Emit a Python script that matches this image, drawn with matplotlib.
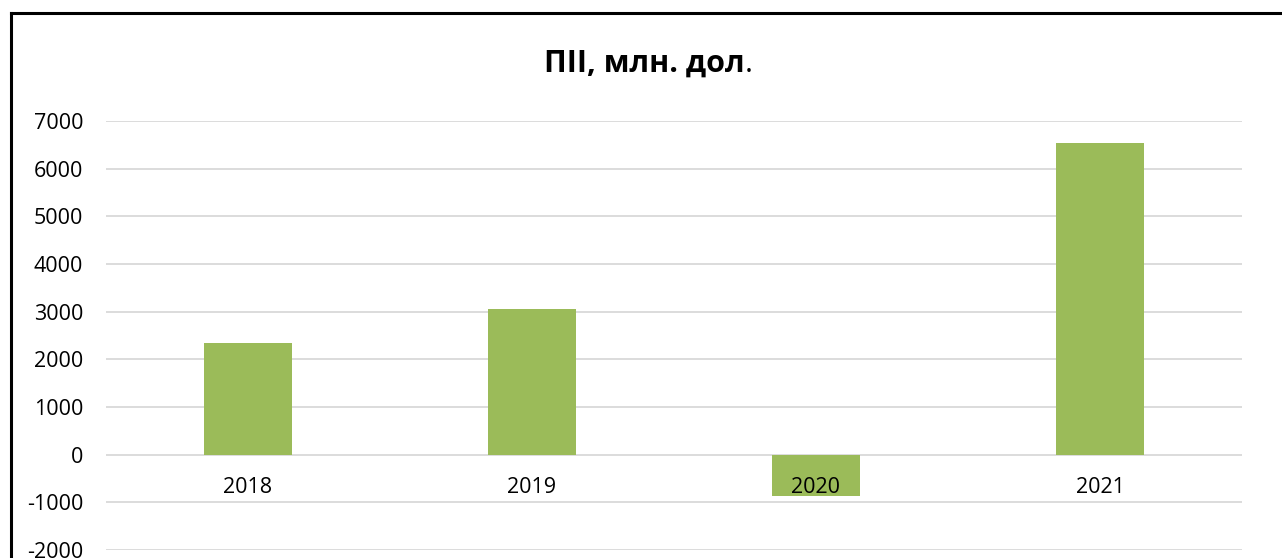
import matplotlib
matplotlib.use("Agg")
import matplotlib.pyplot as plt
from matplotlib.lines import Line2D

# ── 資料 ──────────────────────────────────────────────
years = ["2018", "2019", "2020", "2021"]
fdi = [2350, 3050, -868, 6537]
y_ticks = [-2000, -1000, 0, 1000, 2000, 3000, 4000, 5000, 6000, 7000]

W, H = 1282, 558
FONT = ["Open Sans", "DejaVu Sans"]
BAR = "#9BBB59"
GRID = "#d9d9d9"

plt.rcParams["axes.unicode_minus"] = False

fig = plt.figure(figsize=(W / 100, H / 100), dpi=100)
fig.patch.set_facecolor("white")

# 繪圖區
ax = fig.add_axes([106 / W, 1 - 550 / H, (1242 - 106) / W, (550 - 121) / H])
ax.bar(range(len(years)), fdi, width=0.31, color=BAR, zorder=1)
ax.set_xlim(-0.5, len(years) - 0.5)
ax.set_ylim(y_ticks[0], y_ticks[-1])
ax.set_yticks(y_ticks)
ax.set_xticks(range(len(years)))
ax.set_xticklabels(years)

ax.set_axisbelow(True)
ax.xaxis.set_zorder(3)  # 2020 標籤蓋在柱子上
ax.yaxis.grid(True, color=GRID, linewidth=1.3)
for s in ax.spines.values():
    s.set_visible(False)
ax.spines["bottom"].set_position(("data", 0))
ax.tick_params(axis="both", length=0, labelsize=15.5, labelcolor="black")
ax.tick_params(axis="y", pad=16.5)
ax.tick_params(axis="x", pad=16.0)
for lab in ax.get_xticklabels() + ax.get_yticklabels():
    lab.set_fontfamily(FONT)

# 標題（最後的句點不加粗）
fig.text(745 / W, 1 - 72 / H, "ПІІ, млн. дол", ha="right", va="baseline",
         fontsize=22, fontweight="bold", family=FONT)
fig.text(745 / W, 1 - 72 / H, ".", ha="left", va="baseline",
         fontsize=22, family=FONT)

# 外框（只有上、左）
fig.add_artist(Line2D([11 / W, 1], [1 - 13 / H, 1 - 13 / H],
                      transform=fig.transFigure, color="black", lw=2.2))
fig.add_artist(Line2D([11 / W, 11 / W], [0, 1 - 13 / H],
                      transform=fig.transFigure, color="black", lw=2.2))

fig.savefig("out.png", dpi=100, facecolor=fig.get_facecolor())
plt.close()
